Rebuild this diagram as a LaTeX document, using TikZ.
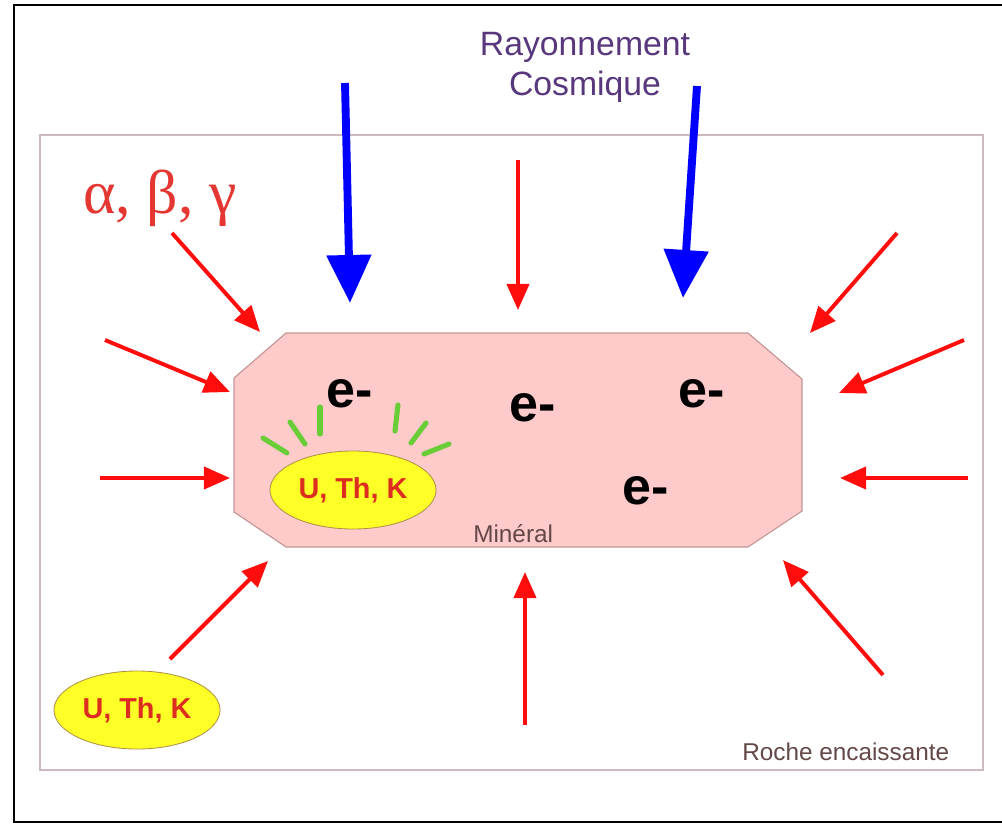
\documentclass[tikz,border=0pt]{standalone}
\usepackage{fontspec}
\setmainfont{Liberation Sans}
\newfontfamily\greekfont{Liberation Serif}
\usetikzlibrary{arrows.meta,shapes.geometric}
\definecolor{rayred}{RGB}{255,12,12}
\definecolor{rayblue}{RGB}{0,0,255}
\definecolor{cosmic}{RGB}{88,55,125}
\definecolor{mineralfill}{RGB}{255,202,202}
\definecolor{mineralline}{RGB}{195,150,150}
\definecolor{rockline}{RGB}{205,185,190}
\definecolor{labelgrey}{RGB}{100,72,72}
\definecolor{sourcered}{RGB}{220,45,30}
\definecolor{sourceyellow}{RGB}{255,255,40}
\definecolor{sourceline}{RGB}{175,145,70}
\definecolor{glow}{RGB}{105,205,55}
\definecolor{greekred}{RGB}{228,55,50}
\begin{document}
\begin{tikzpicture}[x=0.025cm,y=-0.025cm,
  redarrow/.style={draw=rayred,line width=2.8pt,-{Triangle[length=0.65cm,width=0.55cm]}},
  bluearrow/.style={draw=rayblue,line width=5.6pt,-{Triangle[length=1.2cm,width=1.08cm]}},
  glowline/.style={draw=glow,line width=3.6pt,line cap=round},
  source/.style={ellipse,draw=sourceline,fill=sourceyellow,line width=0.6pt,minimum width=4.15cm,minimum height=1.95cm,inner sep=0pt,text=sourcered,font=\bfseries\fontsize{20.5}{24}\selectfont},
  electron/.style={anchor=base west,inner sep=0pt,font=\bfseries\fontsize{37}{44}\selectfont}]
\useasboundingbox (0,0) rectangle (1002,824);
\clip (0,0) rectangle (1002,824);
\draw[line width=2.1pt] (1010,5) -- (14,5) -- (14,822) -- (1010,822);
\draw[draw=rockline,line width=1pt] (40,135) rectangle (983,770);
\draw[fill=mineralfill,draw=mineralline,line width=0.8pt] (286,333) -- (748,333) -- (802,379) -- (802,511) -- (748,547) -- (286,547) -- (234,512) -- (234,378) -- cycle;
\node[anchor=base west,inner sep=0pt,text=labelgrey,font=\fontsize{17.3}{20}\selectfont] (mineral) at (473,542) {Minéral};
\node[anchor=base west,inner sep=0pt,text=labelgrey,font=\fontsize{17.3}{20}\selectfont] (rock) at (742,760) {Roche encaissante};
\node[align=center,text=cosmic,font=\fontsize{24}{28.3}\selectfont] (cosmic) at (585,67) {Rayonnement\\Cosmique};
\node[anchor=base west,inner sep=0pt,text=greekred,font=\greekfont\fontsize{44}{52}\selectfont] (particles) at (83,213) {α, β, γ};
\node[source] (inner) at (353,490) {U, Th, K};
\node[source] (outer) at (137,710) {U, Th, K};
\node[electron] (e1) at (326,407) {e-};
\node[electron] (e2) at (509,421) {e-};
\node[electron] (e3) at (678,407) {e-};
\node[electron] (e4) at (622,504) {e-};
\foreach \n/\sx/\sy/\tx/\ty in {1/263/438/287/453, 2/290/422/305/444, 3/320/407/320/434, 4/398/405/395/431, 5/426/423/411/443, 6/449/444/424/454} {
  \coordinate (glowa\n) at (\sx,\sy);
  \coordinate (glowb\n) at (\tx,\ty);
  \draw[glowline] (glowa\n) -- (glowb\n);
}
\foreach \n/\sx/\sy/\tx/\ty in {1/172/233/260/332, 2/105/340/230/392, 3/100/478/230/478, 4/170/659/268/561, 5/518/160/518/310, 6/525/725/525/572, 7/897/233/810/333, 8/964/340/839/393, 9/968/478/840/478, 10/883/675/783/560} {
  \coordinate (from\n) at (\sx,\sy);
  \coordinate (to\n) at (\tx,\ty);
  \draw[redarrow] (from\n) -- (to\n);
}
\coordinate (cosmicA) at (345,83);
\coordinate (cosmicAtip) at (350,303);
\coordinate (cosmicB) at (697,86);
\coordinate (cosmicBtip) at (683,298);
\draw[bluearrow] (cosmicA) -- (cosmicAtip);
\draw[bluearrow] (cosmicB) -- (cosmicBtip);
\end{tikzpicture}
\end{document}
